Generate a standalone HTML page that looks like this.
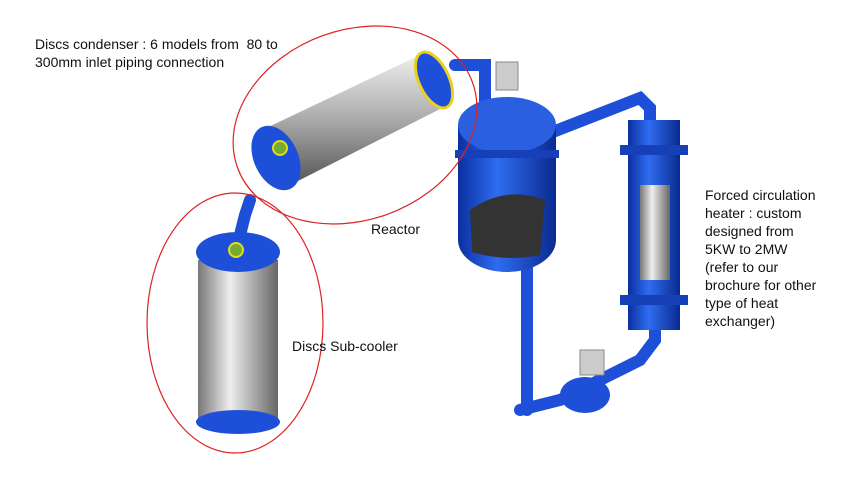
<!DOCTYPE html>
<html><head><meta charset="utf-8"><style>
html,body{margin:0;padding:0;background:#fff;}
.t{position:absolute;font-family:"Liberation Sans",Arial,sans-serif;font-size:14px;color:#111;line-height:18px;}
</style></head><body>
<div style="position:relative;width:860px;height:489px;overflow:hidden">
<svg width="860" height="489" style="position:absolute;left:0;top:0">
<defs>
<linearGradient id="g" x1="0" y1="0" x2="1" y2="0"><stop offset="0" stop-color="#777"/><stop offset="0.4" stop-color="#eee"/><stop offset="1" stop-color="#666"/></linearGradient>
<linearGradient id="gd" x1="0" y1="0" x2="0" y2="1"><stop offset="0" stop-color="#eee"/><stop offset="0.5" stop-color="#aaa"/><stop offset="1" stop-color="#555"/></linearGradient>
<linearGradient id="b" x1="0" y1="0" x2="1" y2="0"><stop offset="0" stop-color="#0a2fa0"/><stop offset="0.4" stop-color="#2f6cf0"/><stop offset="1" stop-color="#0a2a90"/></linearGradient>
</defs>
<g stroke="#1d4fd8" stroke-width="12" fill="none" stroke-linecap="round">
<path d="M455 65 L485 65 L485 115"/>
<path d="M545 135 L640 98 L650 108 L650 125"/>
<path d="M527 260 L527 410"/>
<path d="M520 410 L560 400 L640 360 L655 340 L655 325"/>
<path d="M250 200 L245 215 L240 235"/>
</g>
<rect x="458" y="125" width="98" height="115" fill="url(#b)"/>
<ellipse cx="507" cy="125" rx="49" ry="28" fill="#2a60e0"/>
<ellipse cx="507" cy="240" rx="49" ry="32" fill="url(#b)"/>
<path d="M470 210 Q505 185 545 200 L540 255 Q505 262 472 252Z" fill="#333"/>
<rect x="455" y="150" width="104" height="8" fill="#1540b8"/>
<rect x="496" y="62" width="22" height="28" fill="#ccc" stroke="#888"/>
<rect x="628" y="120" width="52" height="210" fill="url(#b)"/>
<rect x="640" y="185" width="30" height="95" fill="url(#g)"/>
<rect x="620" y="145" width="68" height="10" fill="#1540b8"/>
<rect x="620" y="295" width="68" height="10" fill="#1540b8"/>
<ellipse cx="585" cy="395" rx="25" ry="18" fill="#1d4fd8"/>
<rect x="580" y="350" width="24" height="25" fill="#ccc" stroke="#888"/>
<polygon points="262,130 420,55 448,105 290,185" fill="url(#gd)"/>
<ellipse cx="434" cy="80" rx="15" ry="30" transform="rotate(-25 434 80)" fill="#1d4fd8" stroke="#e8d020" stroke-width="3"/>
<ellipse cx="276" cy="158" rx="22" ry="34" transform="rotate(-25 276 158)" fill="#1d4fd8"/>
<circle cx="280" cy="148" r="7" fill="#7a3" stroke="#dd2" stroke-width="2"/>
<rect x="198" y="260" width="80" height="160" fill="url(#g)"/>
<ellipse cx="238" cy="422" rx="42" ry="12" fill="#1d4fd8"/>
<ellipse cx="238" cy="252" rx="42" ry="20" fill="#1d4fd8"/>
<circle cx="236" cy="250" r="7" fill="#7a3" stroke="#dd2" stroke-width="2"/>
<ellipse cx="355" cy="125" rx="125" ry="95" transform="rotate(-20 355 125)" fill="none" stroke="#d22" stroke-width="1.2"/>
<ellipse cx="235" cy="323" rx="88" ry="130" fill="none" stroke="#d22" stroke-width="1.2"/>
</svg>
<div class="t" style="left:35px;top:35px">Discs condenser : 6 models from&nbsp; 80 to<br>300mm inlet piping connection</div>
<div class="t" style="left:371px;top:220px">Reactor</div>
<div class="t" style="left:292px;top:337px">Discs Sub-cooler</div>
<div class="t" style="left:705px;top:186px">Forced circulation<br>heater : custom<br>designed from<br>5KW to 2MW<br>(refer to our<br>brochure for other<br>type of heat<br>exchanger)</div>
</div>
</body></html>
